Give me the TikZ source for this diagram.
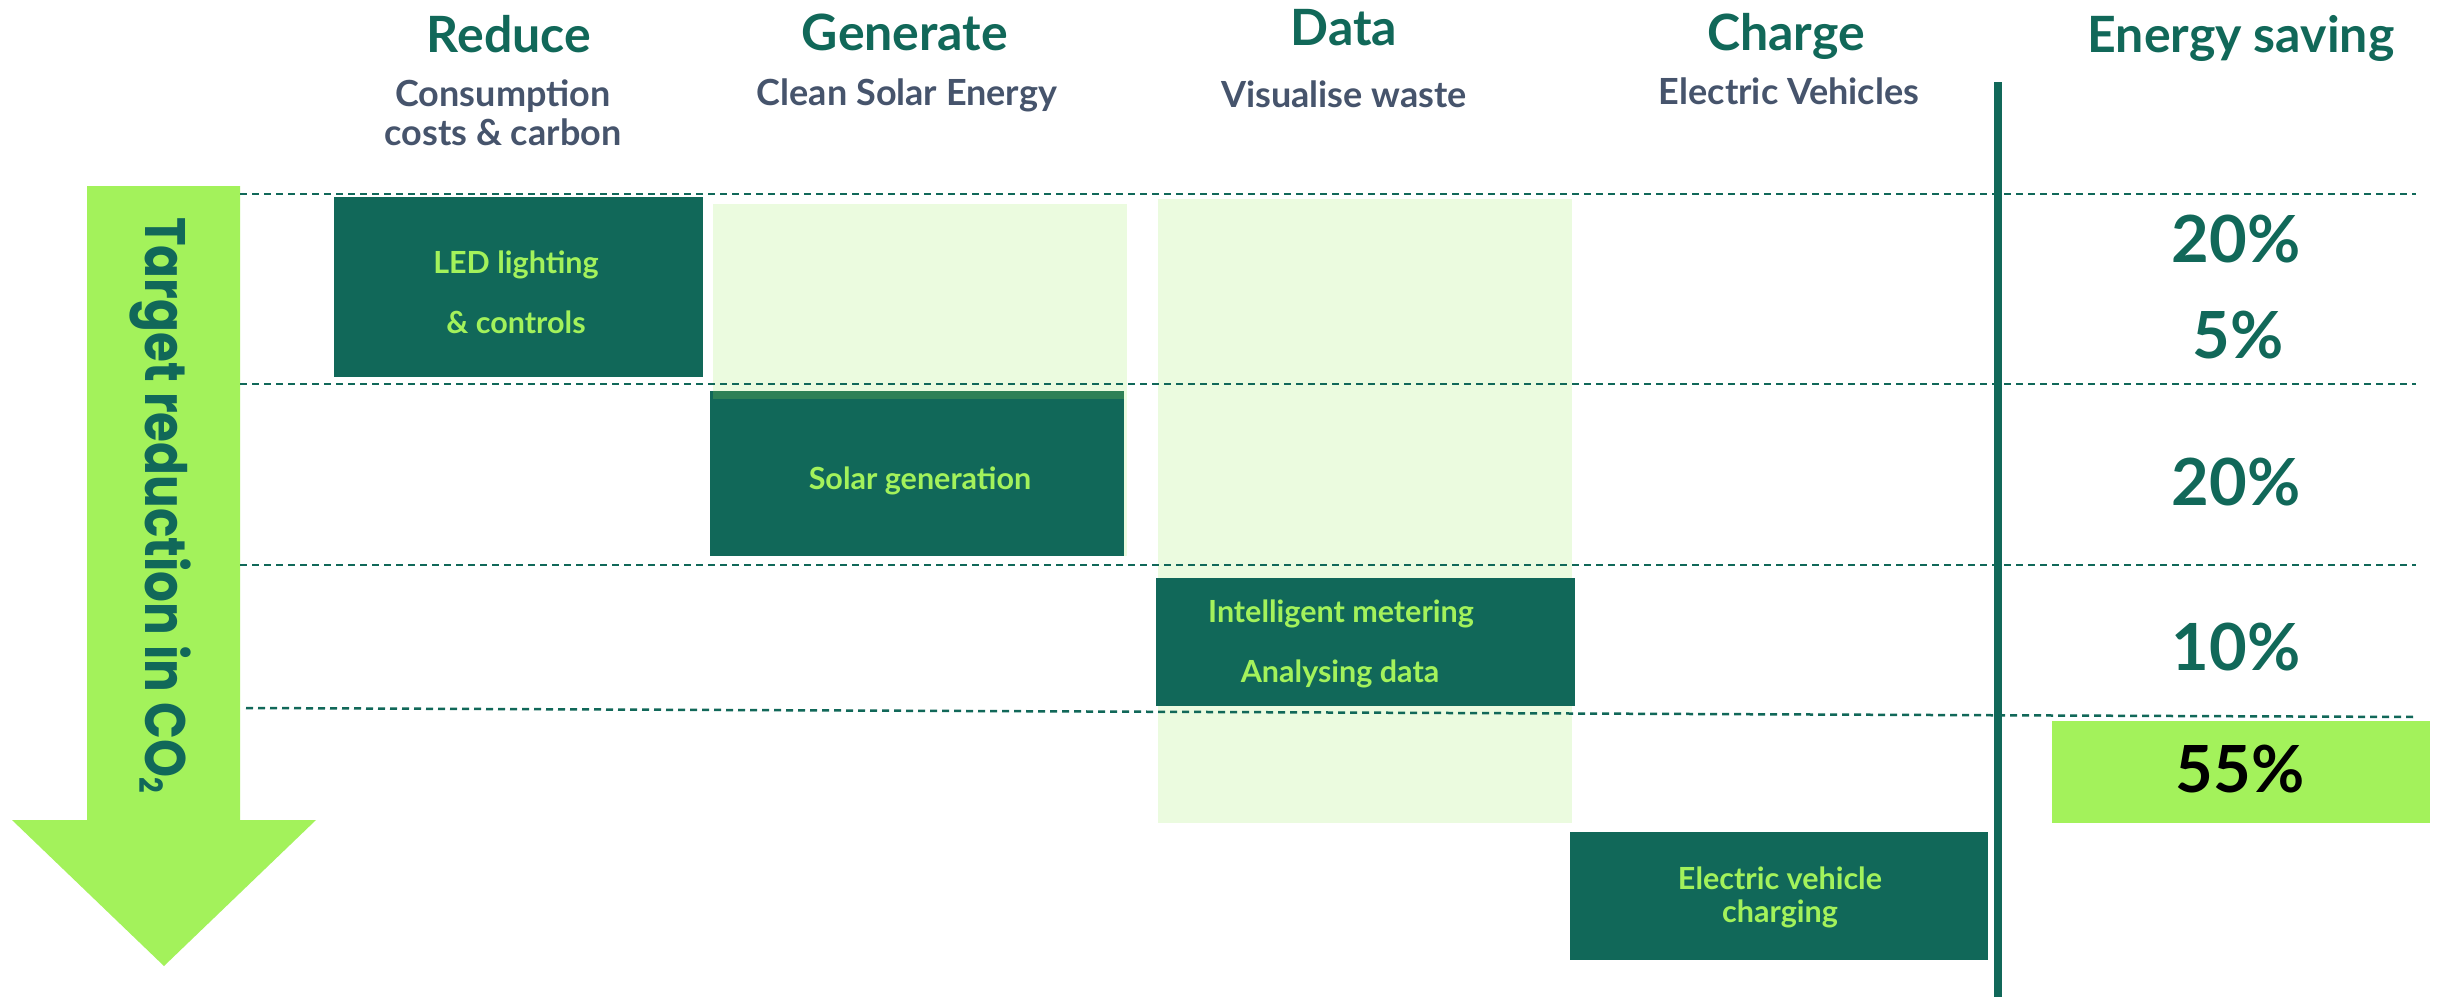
\documentclass[tikz,border=0pt]{standalone}
\usepackage{fontspec}
\setmainfont{Lato}
\newfontfamily\arrowfont{Poppins}
\definecolor{dkgreen}{HTML}{116859}
\definecolor{lime}{HTML}{A3F25B}
\definecolor{pale}{HTML}{EBFBDF}
\definecolor{slate}{HTML}{46546C}
\definecolor{stripe}{HTML}{2E8056}
\tikzset{
  title/.style={anchor=base, inner sep=0pt, text=dkgreen, font=\bfseries\fontsize{50}{60}\selectfont},
  subtitle/.style={anchor=base, inner sep=0pt, text=slate, font=\bfseries\fontsize{36}{43}\selectfont},
  box/.style={anchor=north west, inner sep=0pt, outer sep=0pt, fill=dkgreen, draw=none},
  palebox/.style={anchor=north west, inner sep=0pt, outer sep=0pt, fill=pale, draw=none},
  boxtext/.style={anchor=base, inner sep=0pt, text=lime, font=\bfseries\fontsize{30.5}{36}\selectfont},
  pct/.style={anchor=base, inner sep=0pt, text=dkgreen, font=\bfseries\fontsize{65}{78}\selectfont},
  rowline/.style={draw=dkgreen, line width=2.5pt, dash pattern=on 7pt off 5pt},
}
\begin{document}
\begin{tikzpicture}[x=1pt,y=-1pt]
\useasboundingbox[fill=white] (0,0) rectangle (2450,997);
% arrow
\fill[lime] (87,186) -- (240,186) -- (240,820) -- (316,820) -- (164,966) -- (12,820) -- (87,820) -- cycle;
\node[anchor=base west, rotate=-90, inner sep=0pt, text=dkgreen] (arrowtext) at (145,217)
  {\scalebox{0.85}[1]{\arrowfont\bfseries\fontsize{57}{68}\selectfont Target reduction in CO\raisebox{-0.1em}{\fontsize{32}{38}\selectfont 2}}};
% pale columns
\node[palebox, minimum width=414pt, minimum height=352pt] (genpale) at (713,204) {};
\node[palebox, minimum width=414pt, minimum height=624pt] (datapale) at (1158,199) {};
% dashed rows
\coordinate (l1a) at (240,194); \coordinate (l1b) at (2416,194);
\coordinate (l2a) at (240,384); \coordinate (l2b) at (2416,384);
\coordinate (l3a) at (240,565); \coordinate (l3b) at (2416,565);
\coordinate (l4a) at (246,708); \coordinate (l4b) at (2416,717);
\draw[rowline] (l1a) -- (l1b);
\draw[rowline] (l2a) -- (l2b);
\draw[rowline] (l3a) -- (l3b);
\draw[rowline] (l4a) -- (l4b);
% boxes
\node[box, minimum width=369pt, minimum height=180pt] (led) at (334,197) {};
\node[box, minimum width=414pt, minimum height=165pt] (solar) at (710,391) {};
\fill[stripe] (713,391) rectangle (1124,399);
\node[box, minimum width=419pt, minimum height=128pt] (meter) at (1156,578) {};
\node[box, minimum width=418pt, minimum height=128pt] (ev) at (1570,832) {};
\node[anchor=north west, inner sep=0pt, fill=lime, minimum width=378pt, minimum height=102pt] (total) at (2052,721) {};
% vertical line
\coordinate (vtop) at (1998,82); \coordinate (vbot) at (1998,997);
\draw[dkgreen, line width=8pt] (vtop) -- (vbot);
% headers
\node[title] (h1) at (509,52) {Reduce};
\node[title] (h2) at (905,50) {Generate};
\node[title] (h3) at (1344,45) {Data};
\node[title] (h4) at (1786,50) {Charge};
\node[title] (h5) at (2241,52) {Energy saving};
\node[subtitle] (s1a) at (503,106) {Consumption};
\node[subtitle] (s1b) at (503,145) {costs \& carbon};
\node[subtitle] (s2) at (907,105) {Clean Solar Energy};
\node[subtitle] (s3) at (1344,107) {Visualise waste};
\node[subtitle] (s4) at (1789,104) {Electric Vehicles};
% box texts
\node[boxtext] (t1a) at (516,273) {LED lighting};
\node[boxtext] (t1b) at (516,333) {\& controls};
\node[boxtext] (t2) at (920,489) {Solar generation};
\node[boxtext] (t3a) at (1341,622) {Intelligent metering};
\node[boxtext] (t3b) at (1340,682) {Analysing data};
\node[boxtext] (t4a) at (1780,889) {Electric vehicle};
\node[boxtext] (t4b) at (1780,922) {charging};
% percentages
\node[pct] (p1) at (2236,262) {20\%};
\node[pct] (p2) at (2238,358) {5\%};
\node[pct] (p3) at (2236,505) {20\%};
\node[pct] (p4) at (2236,670) {10\%};
\node[pct, text=black] (p5) at (2240,792) {55\%};
\end{tikzpicture}
\end{document}
